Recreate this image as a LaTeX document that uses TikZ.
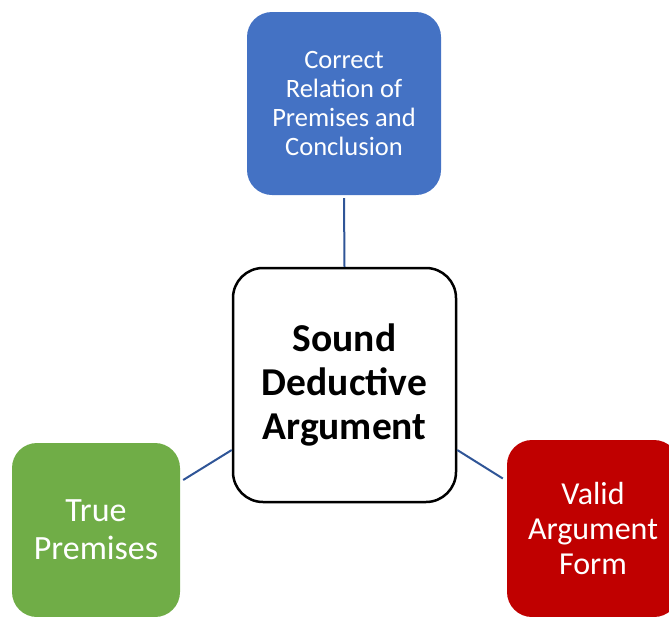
\documentclass[tikz,border=0pt]{standalone}
\usepackage{fontspec}
\setmainfont{Carlito}
\usetikzlibrary{calc}
\definecolor{cblue}{HTML}{4472C4}
\definecolor{cgreen}{HTML}{70AD47}
\definecolor{cred}{HTML}{C00000}
\definecolor{cline}{HTML}{2F5597}
\begin{document}
\begin{tikzpicture}[x=1pt,y=-1pt,
  box/.style={rounded corners=25pt, draw=none, inner sep=0pt, align=center, text=white},
  link/.style={draw=cline, line width=2pt}]
\useasboundingbox (0,0) rectangle (669,616);
\node[box, fill=cblue, minimum width=194pt, minimum height=183pt,
      font=\fontsize{26.5}{29}\selectfont] (top) at (344,103.5)
      {Correct\\Relation of\\Premises and\\Conclusion};
\node[box, fill=cgreen, minimum width=168pt, minimum height=174pt,
      font=\fontsize{34}{38}\selectfont] (green) at (96,530)
      {True\\Premises};
\node[box, fill=cred, minimum width=172pt, minimum height=177pt,
      font=\fontsize{32}{35}\selectfont] (red) at (593,528.5)
      {Valid\\Argument\\Form};
\node[draw=black, line width=2.5pt, fill=white, rounded corners=30pt, inner sep=0pt,
      align=center, minimum width=223pt, minimum height=234pt,
      font=\fontsize{39.5}{44}\selectfont\bfseries] (mid) at (344.5,385)
      {Sound\\Deductive\\Argument};
\draw[link] ($(top.south)+(0,3)$) -- (mid.north);
\draw[link] ($(mid.west)+(0,65)$) -- ($(green.east)+(3,-50)$);
\draw[link] ($(mid.east)+(0,65)$) -- ($(red.west)+(-4,-50)$);
\end{tikzpicture}
\end{document}
